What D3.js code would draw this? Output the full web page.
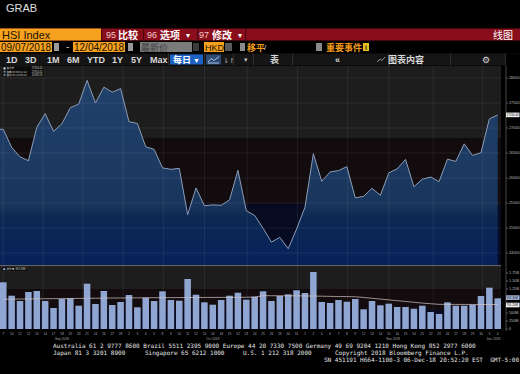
<!DOCTYPE html>
<html>
<head>
<meta charset="utf-8">
<script src="https://cdn.jsdelivr.net/npm/d3@7"></script>
<style>
body { margin: 0; background: #000; }
svg { display: block; }
</style>
</head>
<body>
<svg id="svg" width="520" height="374"></svg>
<script>
// trading days 09/07/2018 - 12/04/2018
const dates = ["09/07","09/10","09/11","09/12","09/13","09/14","09/17","09/18","09/19","09/20","09/21","09/24","09/26","09/27","09/28",
    "10/02","10/03","10/04","10/05","10/08","10/09","10/10","10/11","10/12","10/15","10/16","10/18","10/19","10/22","10/23","10/24","10/25","10/26","10/29","10/30","10/31",
    "11/01","11/02","11/05","11/06","11/07","11/08","11/09","11/12","11/13","11/14","11/15","11/16","11/19","11/20","11/21","11/22","11/23","11/26","11/27","11/28","11/29","11/30",
    "12/03","12/04"];
const closes = [26973.47,26613.42,26422.55,26345.05,27014.49,27286.41,26932.85,27084.66,27407.37,27477.67,27953.42,27499.39,27816.87,27715.67,27788.52,
    27126.38,27091.25,26623.91,26572.57,26202.65,26172.91,26193.07,25266.37,25801.49,25445.06,25462.26,25454.55,25561.40,26153.15,25346.55,25249.78,24994.46,24717.63,24812.04,24585.53,24979.69,
    25416.00,26486.35,25935.07,26120.96,26147.85,26227.72,25601.92,25633.18,25792.87,25654.41,26103.34,26183.53,26372.01,25825.35,25975.02,26019.41,25927.68,26376.18,26331.97,26682.58,26451.67,26506.75,
    27182.04,27260.44];
// volume, millions of shares
const volumes = [1459,1041,875,1156,1188,875,656,938,959,728,1416,781,1188,750,844,1063,678,978,875,1178,906,884,1563,1072,834,759,906,1041,1134,916,
    1009,1178,875,1031,1084,1209,1125,1781,844,813,906,853,938,616,875,741,791,688,688,634,728,531,469,834,728,728,759,1031,1291,959.3];
const volumeAvg = [930,934,937,940,943,945,948,950,953,956,959,962,965,968,970,972,974,976,978,979,980,982,984,985,986,987,988,989,990,992,
    1000,1040,1040,1039,1037,1035,1033,1030,1025,1020,1015,1012,1008,985,960,935,910,885,860,835,810,790,771,770,769,768,767,766,766,765.2];
const priceTicks = [24500,25000,25500,26000,26500,27000,27500,28000];
const volumeTicks = [0,250,500,750,1000,1250,1500,1750];
const monthLabels = ["Sep 2018","Oct 2018","Nov 2018","Dec 2018"];
const gridIdx = [0,4.75,9.5,14.3,19.1,24,29.1,35.1,41.1,46,51.3,57.2];
const legendRows = [["最新价","27260.44"],["最高 on 09/21/18","27953.42"],["最低 on 10/30/18","24585.53"]];

const svg = d3.select("#svg");
const cjk = "'Noto Sans CJK SC', 'Noto Sans', sans-serif";
const sans = "'Liberation Sans', Arial, 'Noto Sans CJK SC', sans-serif";
const mono = "'DejaVu Sans Mono', 'Liberation Mono', monospace";

const plotL = 0, plotR = 501;
const priceTop = 66, priceBot = 265, volTop = 266, volBot = 329;
const axisX = 506;

// ---------- header ----------
svg.append("text").attr("x", 6).attr("y", 12).text("GRAB")
    .attr("font-family", sans).attr("font-size", 11).attr("fill", "#e0e0e0");

svg.append("rect").attr("x", 0).attr("y", 28.5).attr("width", 520).attr("height", 12).attr("fill", "#8a0d1b");
svg.append("rect").attr("x", 0).attr("y", 28.5).attr("width", 101).attr("height", 12).attr("fill", "#f6a21e");
svg.append("text").attr("x", 2).attr("y", 38.5).text("HSI Index")
    .attr("font-family", sans).attr("font-size", 11).attr("fill", "#1a1000");
[101, 143, 197, 245].forEach(x => {
    svg.append("rect").attr("x", x).attr("y", 28.5).attr("width", 1.2).attr("height", 12).attr("fill", "#4c0610");
});
const menu = [["95", 106, "比较", 118, ""], ["96", 147, "选项", 160, "▾"], ["97", 199, "修改", 212, "▾"]];
menu.forEach(([num, nx, label, lx, arrow]) => {
    svg.append("text").attr("x", nx).attr("y", 38).text(num)
        .attr("font-family", sans).attr("font-size", 9).attr("fill", "#f3c8c8");
    svg.append("text").attr("x", lx).attr("y", 38.5).text(label)
        .attr("font-family", cjk).attr("font-size", 10).attr("font-weight", "bold").attr("fill", "#fff");
    if (arrow) svg.append("text").attr("x", lx + 26).attr("y", 38).text(arrow)
        .attr("font-family", sans).attr("font-size", 8).attr("fill", "#fff");
});
svg.append("text").attr("x", 493).attr("y", 38.5).text("线图")
    .attr("font-family", cjk).attr("font-size", 10).attr("fill", "#fff");

// row 2
function orangeBox(x, w, label, size) {
    svg.append("rect").attr("x", x).attr("y", 42).attr("width", w).attr("height", 10).attr("fill", "#f6a21e");
    svg.append("text").attr("x", x + 1).attr("y", 50.8).text(label)
        .attr("font-family", sans).attr("font-size", size || 10).attr("fill", "#1a1000");
}
function smallBox(x, w, fill) {
    svg.append("rect").attr("x", x).attr("y", 43).attr("width", w).attr("height", 8).attr("fill", fill);
}
orangeBox(0, 52, "09/07/2018");
smallBox(54, 5, "#9a9a9a");
svg.append("text").attr("x", 66).attr("y", 50).text("-").attr("font-family", sans).attr("font-size", 10).attr("fill", "#ccc");
orangeBox(73, 52, "12/04/2018");
smallBox(128, 5, "#9a9a9a");
svg.append("rect").attr("x", 140).attr("y", 42).attr("width", 52).attr("height", 10).attr("fill", "#7b7b7b");
svg.append("text").attr("x", 141).attr("y", 50.5).text("最新价")
    .attr("font-family", cjk).attr("font-size", 9).attr("fill", "#3c3c3c");
smallBox(193, 6, "#3a3a3a");
orangeBox(204, 20, "HKD", 9);
smallBox(225, 7, "#5a5a5a");
smallBox(240, 5, "#8a8a8a");
svg.append("text").attr("x", 247).attr("y", 50.5).text("移平")
    .attr("font-family", cjk).attr("font-size", 9).attr("font-weight", "bold").attr("fill", "#f39c1a");
svg.append("text").attr("x", 264).attr("y", 50).text("/")
    .attr("font-family", sans).attr("font-size", 8).attr("fill", "#ccc");
smallBox(316, 6, "#8a8a8a");
svg.append("text").attr("x", 326).attr("y", 50.5).text("重要事件")
    .attr("font-family", cjk).attr("font-size", 9).attr("font-weight", "bold").attr("fill", "#f39c1a");
svg.append("rect").attr("x", 363).attr("y", 43).attr("width", 6).attr("height", 8).attr("fill", "#e7c21c");
svg.append("text").attr("x", 366).attr("y", 50).text("i").attr("text-anchor", "middle")
    .attr("font-family", sans).attr("font-size", 7).attr("font-weight", "bold").attr("fill", "#222");

// row 3
svg.append("rect").attr("x", 0).attr("y", 53.5).attr("width", 520).attr("height", 12).attr("fill", "#151515");
const ranges = [["1D", 6], ["3D", 25], ["1M", 47], ["6M", 67], ["YTD", 87], ["1Y", 112], ["5Y", 131], ["Max", 150]];
ranges.forEach(([t, x]) => {
    svg.append("text").attr("x", x).attr("y", 63).text(t)
        .attr("font-family", sans).attr("font-size", 9).attr("font-weight", "bold").attr("fill", "#d8d8d8");
});
svg.append("rect").attr("x", 170).attr("y", 54.5).attr("width", 33).attr("height", 10).attr("fill", "#1d62c4");
svg.append("text").attr("x", 173).attr("y", 63).text("每日")
    .attr("font-family", cjk).attr("font-size", 9).attr("font-weight", "bold").attr("fill", "#fff");
svg.append("text").attr("x", 193).attr("y", 62.5).text("▼")
    .attr("font-family", sans).attr("font-size", 7).attr("fill", "#fff");
svg.append("rect").attr("x", 206).attr("y", 54.5).attr("width", 15).attr("height", 10).attr("fill", "#2c4a72");
svg.append("path").attr("d", "M208,62 L211,58.5 L214,60.5 L219,56.5 M208,63 H219")
    .attr("fill", "none").attr("stroke", "#cfe0ff").attr("stroke-width", 0.8);
svg.append("text").attr("x", 223).attr("y", 62.5).text("⇂↾")
    .attr("font-family", "'DejaVu Sans', sans-serif").attr("font-size", 7).attr("fill", "#bbb");
svg.append("text").attr("x", 244).attr("y", 62).text("▾")
    .attr("font-family", sans).attr("font-size", 7).attr("fill", "#bbb");
[168, 204, 233, 253, 292, 388, 450, 505].forEach(x => {
    svg.append("rect").attr("x", x).attr("y", 53.5).attr("width", 1).attr("height", 12).attr("fill", "#2e2e2e");
});
svg.append("text").attr("x", 270).attr("y", 63).text("表")
    .attr("font-family", cjk).attr("font-size", 9).attr("font-weight", "bold").attr("fill", "#d8d8d8");
svg.append("text").attr("x", 335).attr("y", 62.5).text("«")
    .attr("font-family", sans).attr("font-size", 9).attr("font-weight", "bold").attr("fill", "#d8d8d8");
svg.append("path").attr("d", "M377,62 L380,59 L382,60.5 L385,57")
    .attr("fill", "none").attr("stroke", "#aaa").attr("stroke-width", 0.8);
svg.append("text").attr("x", 388).attr("y", 63).text("图表内容")
    .attr("font-family", cjk).attr("font-size", 9).attr("font-weight", "bold").attr("fill", "#d8d8d8");
svg.append("text").attr("x", 482).attr("y", 63).text("⚙")
    .attr("font-family", "'DejaVu Sans', sans-serif").attr("font-size", 9).attr("fill", "#d8d8d8");
svg.append("rect").attr("x", 506).attr("y", 54).attr("width", 14).attr("height", 12).attr("fill", "#000");

// ---------- scales ----------
const n = closes.length;
const x = d3.scaleBand().domain(d3.range(n)).range([plotL, plotR]).paddingInner(0.22).paddingOuter(0);
const xc = i => x(i) + x.bandwidth() / 2;
const xLin = d3.scaleLinear().domain([0, n - 1]).range([xc(0), xc(n - 1)]);
const y = d3.scaleLinear().domain([24260, 28240]).range([priceBot, priceTop]);
const yv = d3.scaleLinear().domain([0, 1969]).range([volBot, volTop]);

// ---------- backgrounds ----------
const defs = svg.append("defs");
function bands(top, bot, id) {
    const h = bot - top;
    const g = defs.append("linearGradient").attr("id", id).attr("x1", 0).attr("y1", 0).attr("x2", 0).attr("y2", 1);
    [[0, "#1d1d1d"], [0.36, "#1d1d1d"], [0.362, "#120c0f"], [0.69, "#120c0f"], [0.692, "#080b20"], [1, "#050a24"]]
        .forEach(([o, c]) => g.append("stop").attr("offset", o).attr("stop-color", c));
    svg.append("rect").attr("x", plotL).attr("y", top).attr("width", plotR - plotL).attr("height", h)
        .attr("fill", `url(#${id})`);
}
bands(priceTop, priceBot, "bgPrice");
bands(volTop, volBot, "bgVol");

const fillGrad = defs.append("linearGradient").attr("id", "fillGrad")
    .attr("gradientUnits", "userSpaceOnUse").attr("x1", 0).attr("y1", priceTop).attr("x2", 0).attr("y2", priceBot);
[[0, "#22426c"], [0.5, "#1c3a62"], [0.7, "#18345a"], [0.76, "#0d2853"], [1, "#06225a"]]
    .forEach(([o, c]) => fillGrad.append("stop").attr("offset", o).attr("stop-color", c));

// ---------- price panel ----------
const pts = closes.map((v, i) => [xc(i), y(v)]);
pts.unshift([plotL, y(closes[0])]);
svg.append("path")
    .attr("d", d3.area().x(d => d[0]).y0(priceBot).y1(d => d[1])(pts))
    .attr("fill", "url(#fillGrad)");

const grid = svg.append("g").attr("stroke", "#ffffff").attr("stroke-opacity", 0.09).attr("stroke-width", 0.8);
priceTicks.forEach(t => grid.append("line").attr("x1", plotL).attr("x2", plotR).attr("y1", y(t)).attr("y2", y(t)));
gridIdx.forEach(g => grid.append("line").attr("x1", xLin(g)).attr("x2", xLin(g)).attr("y1", priceTop).attr("y2", volBot));

svg.append("path")
    .attr("d", d3.line().x(d => d[0]).y(d => d[1])(pts))
    .attr("fill", "none").attr("stroke", "#8c9db5").attr("stroke-width", 1);

// legend
const lg = svg.append("g").attr("transform", "translate(2,66)");
lg.append("rect").attr("width", 42).attr("height", 11).attr("fill", "#0b0b0b").attr("stroke", "#333").attr("stroke-width", 0.4);
legendRows.forEach(([k, v], i) => {
    lg.append("rect").attr("x", 1.5).attr("y", 1.4 + i * 3.2).attr("width", 2).attr("height", 2).attr("fill", i == 0 ? "#eee" : "#888");
    lg.append("text").attr("x", 4.5).attr("y", 3.3 + i * 3.2).text(k)
        .attr("font-family", cjk).attr("font-size", 2.6).attr("fill", "#ccc");
    lg.append("text").attr("x", 40.5).attr("y", 3.3 + i * 3.2).text(v).attr("text-anchor", "end")
        .attr("font-family", sans).attr("font-size", 2.6).attr("fill", "#ccc");
});

// panel separator
svg.append("line").attr("x1", plotL).attr("x2", plotR).attr("y1", 265.6).attr("y2", 265.6)
    .attr("stroke", "#8a8a8a").attr("stroke-width", 0.8);

// ---------- volume panel ----------
svg.append("g").selectAll("rect").data(volumes).join("rect")
    .attr("x", (d, i) => x(i)).attr("width", x.bandwidth())
    .attr("y", d => yv(d)).attr("height", d => yv(0) - yv(d))
    .attr("fill", "#8fa5d2");

svg.append("path")
    .attr("d", d3.line().x((d, i) => xc(i)).y(d => yv(d))(volumeAvg))
    .attr("fill", "none").attr("stroke", "#d8c6c6").attr("stroke-width", 0.7);

const vl = svg.append("g").attr("transform", "translate(2,267)");
vl.append("rect").attr("width", 25).attr("height", 4.5).attr("fill", "#0b0b0b").attr("stroke", "#333").attr("stroke-width", 0.4);
vl.append("rect").attr("x", 1.2).attr("y", 1.2).attr("width", 2).attr("height", 2).attr("fill", "#8fa5d2");
vl.append("text").attr("x", 4.5).attr("y", 3.3).text("成交量")
    .attr("font-family", cjk).attr("font-size", 2.6).attr("fill", "#ccc");
vl.append("text").attr("x", 23.5).attr("y", 3.3).text("959.30M").attr("text-anchor", "end")
    .attr("font-family", sans).attr("font-size", 2.6).attr("fill", "#ccc");

// ---------- right axes ----------
const volTagY = [yv(volumes[n - 1]) - 0.6, yv(volumeAvg[n - 1]) + 0.6];
svg.append("line").attr("x1", axisX).attr("x2", axisX).attr("y1", priceTop).attr("y2", volBot + 2)
    .attr("stroke", "#777").attr("stroke-width", 0.6);
function rightTicks(ticks, scale, fmt, hidden) {
    ticks.forEach(t => {
        svg.append("line").attr("x1", axisX).attr("x2", axisX + 2).attr("y1", scale(t)).attr("y2", scale(t))
            .attr("stroke", "#999").attr("stroke-width", 0.5);
        // labels sitting under a value tag are covered in the terminal, skip them
        if (hidden.some(h => Math.abs(h - scale(t)) < 3.5)) return;
        svg.append("text").attr("x", axisX + 3).attr("y", scale(t) + 1.3).text(fmt(t))
            .attr("font-family", sans).attr("font-size", 3.8).attr("fill", "#bbb");
    });
}
rightTicks(priceTicks, y, d3.format("d"), [y(closes[n - 1])]);
rightTicks(volumeTicks, yv, v => v == 0 ? "0" : v < 1000 ? v + "M" : (v / 1000).toFixed(2) + "B", volTagY);

function valueTag(yy, label, fill) {
    svg.append("rect").attr("x", axisX).attr("y", yy - 2.4).attr("width", 13.5).attr("height", 4.6).attr("fill", fill);
    svg.append("text").attr("x", axisX + 0.6).attr("y", yy + 1.1).text(label)
        .attr("font-family", sans).attr("font-size", 2.9).attr("fill", "#111");
}
valueTag(y(closes[n - 1]), d3.format(".2f")(closes[n - 1]), "#f2f2f2");
valueTag(volTagY[0], "959.30M", "#a9bce2");
valueTag(volTagY[1], "765.20M", "#f2f2f2");

// ---------- x axis ----------
dates.forEach((d, i) => {
    svg.append("text").attr("x", xc(i)).attr("y", 335).text(+d.slice(3)).attr("text-anchor", "middle")
        .attr("font-family", sans).attr("font-size", 3.2).attr("fill", "#aaa");
});
const byMonth = d3.groups(d3.range(n), i => dates[i].slice(0, 2));
byMonth.forEach(([m, idx], k) => {
    svg.append("text").attr("x", xLin(d3.mean(idx))).attr("y", 340).text(monthLabels[k]).attr("text-anchor", "middle")
        .attr("font-family", sans).attr("font-size", 3.2).attr("fill", "#aaa");
});

// ---------- footer ----------
const footer = [
    [53, 348, "Australia 61 2 9777 8600 Brazil 5511 2395 9000 Europe 44 20 7330 7500 Germany 49 69 9204 1210 Hong Kong 852 2977 6000"],
    [53, 355, "Japan 81 3 3201 8900"],
    [145, 355, "Singapore 65 6212 1000"],
    [243, 355, "U.S. 1 212 318 2000"],
    [335, 355, "Copyright 2018 Bloomberg Finance L.P."],
    [324, 362, "SN 451191 H664-1100-3 06-Dec-18 20:52:20 EST  GMT-5:00"]
];
footer.forEach(([fx, fy, t]) => {
    svg.append("text").attr("x", fx).attr("y", fy).text(t).attr("xml:space", "preserve")
        .attr("font-family", mono).attr("font-size", 6).attr("fill", "#e6e6e6");
});
</script>
</body>
</html>
